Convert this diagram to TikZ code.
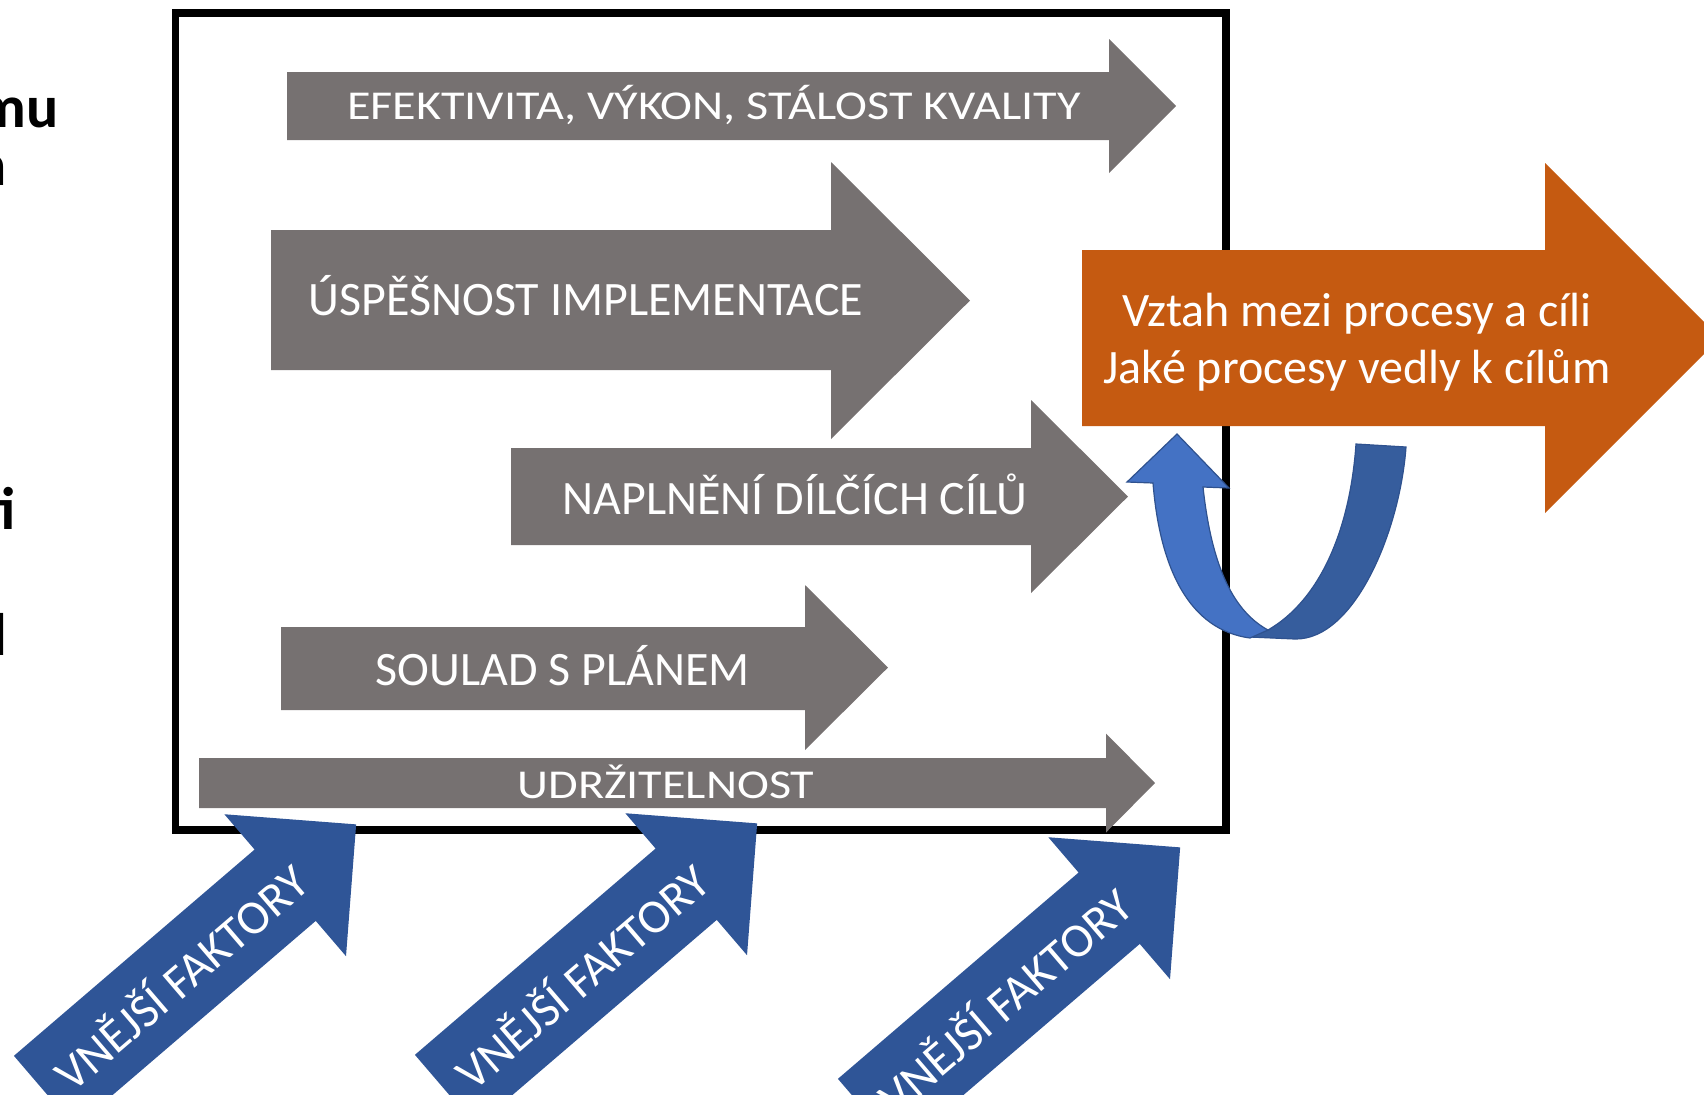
\documentclass[tikz,border=0pt]{standalone}
\usepackage{fontspec}
\setmainfont{Carlito}
\newfontfamily\widefont[FakeStretch=1.175]{Carlito}
\usepackage{xcolor}
\usepackage{tikz}
\usetikzlibrary{positioning}

\definecolor{arrowgray}{HTML}{767171}
\definecolor{goalorange}{HTML}{C55A11}
\definecolor{factorblue}{HTML}{2F5597}
\definecolor{loopblue}{HTML}{4472C4}
\definecolor{loopback}{HTML}{365D9D}
\definecolor{loopedge}{HTML}{2F528F}

\tikzset{
  barlabel/.style={text=white, inner sep=0pt, anchor=base, font=\fontsize{24}{29}\selectfont},
  widelabel/.style={text=white, inner sep=0pt, anchor=base, font=\widefont\fontsize{20.5}{25}\selectfont},
  factorlabel/.style={text=white, inner sep=0pt, transform shape, font=\fontsize{24}{29}\selectfont},
  cutword/.style={anchor=base east, inner sep=0pt, font=\bfseries\fontsize{30}{36}\selectfont}
}

\begin{document}
\begin{tikzpicture}[x=0.5pt, y=-0.5pt]
  \useasboundingbox (0,0) rectangle (1704,1094);
  \clip (0,0) rectangle (1704,1094);

  % Cut-off words at the left edge
  \node[cutword] (cutmu) at (59,127) {mu};
  \node[cutword] (cutn) at (7,185) {n};
  \node[cutword] (cutti) at (16,529) {ti};
  \node[cutword] (cutl) at (8,655) {l};

  % Frame
  \draw[line width=3.7pt] (175.5,13) rectangle (1226,830);

  % Gray arrows
  \fill[arrowgray] (287,72) -- (1109,72) -- (1109,39) -- (1176,106) -- (1109,173) -- (1109,140) -- (287,140) -- cycle;
  \node[widelabel] (efektivita) at (714,119.5) {EFEKTIVITA, VÝKON, STÁLOST KVALITY};

  \fill[arrowgray] (271,230) -- (831,230) -- (831,162) -- (970,300.5) -- (831,439) -- (831,370) -- (271,370) -- cycle;
  \node[barlabel] (uspesnost) at (586,315) {ÚSPĚŠNOST IMPLEMENTACE};

  \fill[arrowgray] (511,448) -- (1031,448) -- (1031,400) -- (1128,496.5) -- (1031,593) -- (1031,545) -- (511,545) -- cycle;
  \node[barlabel] (naplneni) at (795,514) {NAPLNĚNÍ DÍLČÍCH CÍLŮ};

  \fill[arrowgray] (281,627) -- (805,627) -- (805,585) -- (888,667.5) -- (805,750) -- (805,710) -- (281,710) -- cycle;
  \node[barlabel] (soulad) at (563,685) {SOULAD S PLÁNEM};

  \fill[arrowgray] (199,758) -- (1106,758) -- (1106,733.5) -- (1155,783) -- (1106,832.5) -- (1106,808) -- (199,808) -- cycle;
  \node[widelabel] (udrzitelnost) at (666,798) {UDRŽITELNOST};

  % Orange arrow
  \fill[goalorange] (1082,250) -- (1545,250) -- (1545,163) -- (1720,338) -- (1545,513) -- (1545,426) -- (1082,426) -- cycle;
  \node[barlabel] (vztah) at (1357,326) {Vztah mezi procesy a cíli};
  \node[barlabel] (procesy) at (1357,383) {Jaké procesy vedly k cílům};

  % Loop arrow (back band, then front band)
  \filldraw[fill=loopback, draw=loopedge, line width=0.6pt] (1356,444) -- (1406,447)
    .. controls (1400,530) and (1355,640) .. (1295,639) -- (1250,637) -- (1268,630)
    .. controls (1320,600) and (1350,530) .. (1356,444) -- cycle;
  \filldraw[fill=loopblue, draw=loopedge, line width=0.6pt] (1177,434) -- (1229,488) -- (1203,487)
    .. controls (1212,570) and (1235,612) .. (1268,630) -- (1250,638)
    .. controls (1190,630) and (1160,570) .. (1153,483) -- (1127,482) -- cycle;

  % External factors
  \foreach \sx/\sy/\nm in {44.5/1091.5/a, 445.5/1090.5/b, 868.5/1114.5/c} {
    \begin{scope}[shift={(\sx,\sy)}, rotate=40.6]
      \fill[factorblue] (0,-47) -- (317,-47) -- (317,-93.5) -- (410.5,0) -- (317,93.5) -- (317,47) -- (0,47) -- cycle;
      \node[factorlabel] (factor\nm) at (178,0) {VNĚJŠÍ FAKTORY};
    \end{scope}
  }
\end{tikzpicture}
\end{document}
